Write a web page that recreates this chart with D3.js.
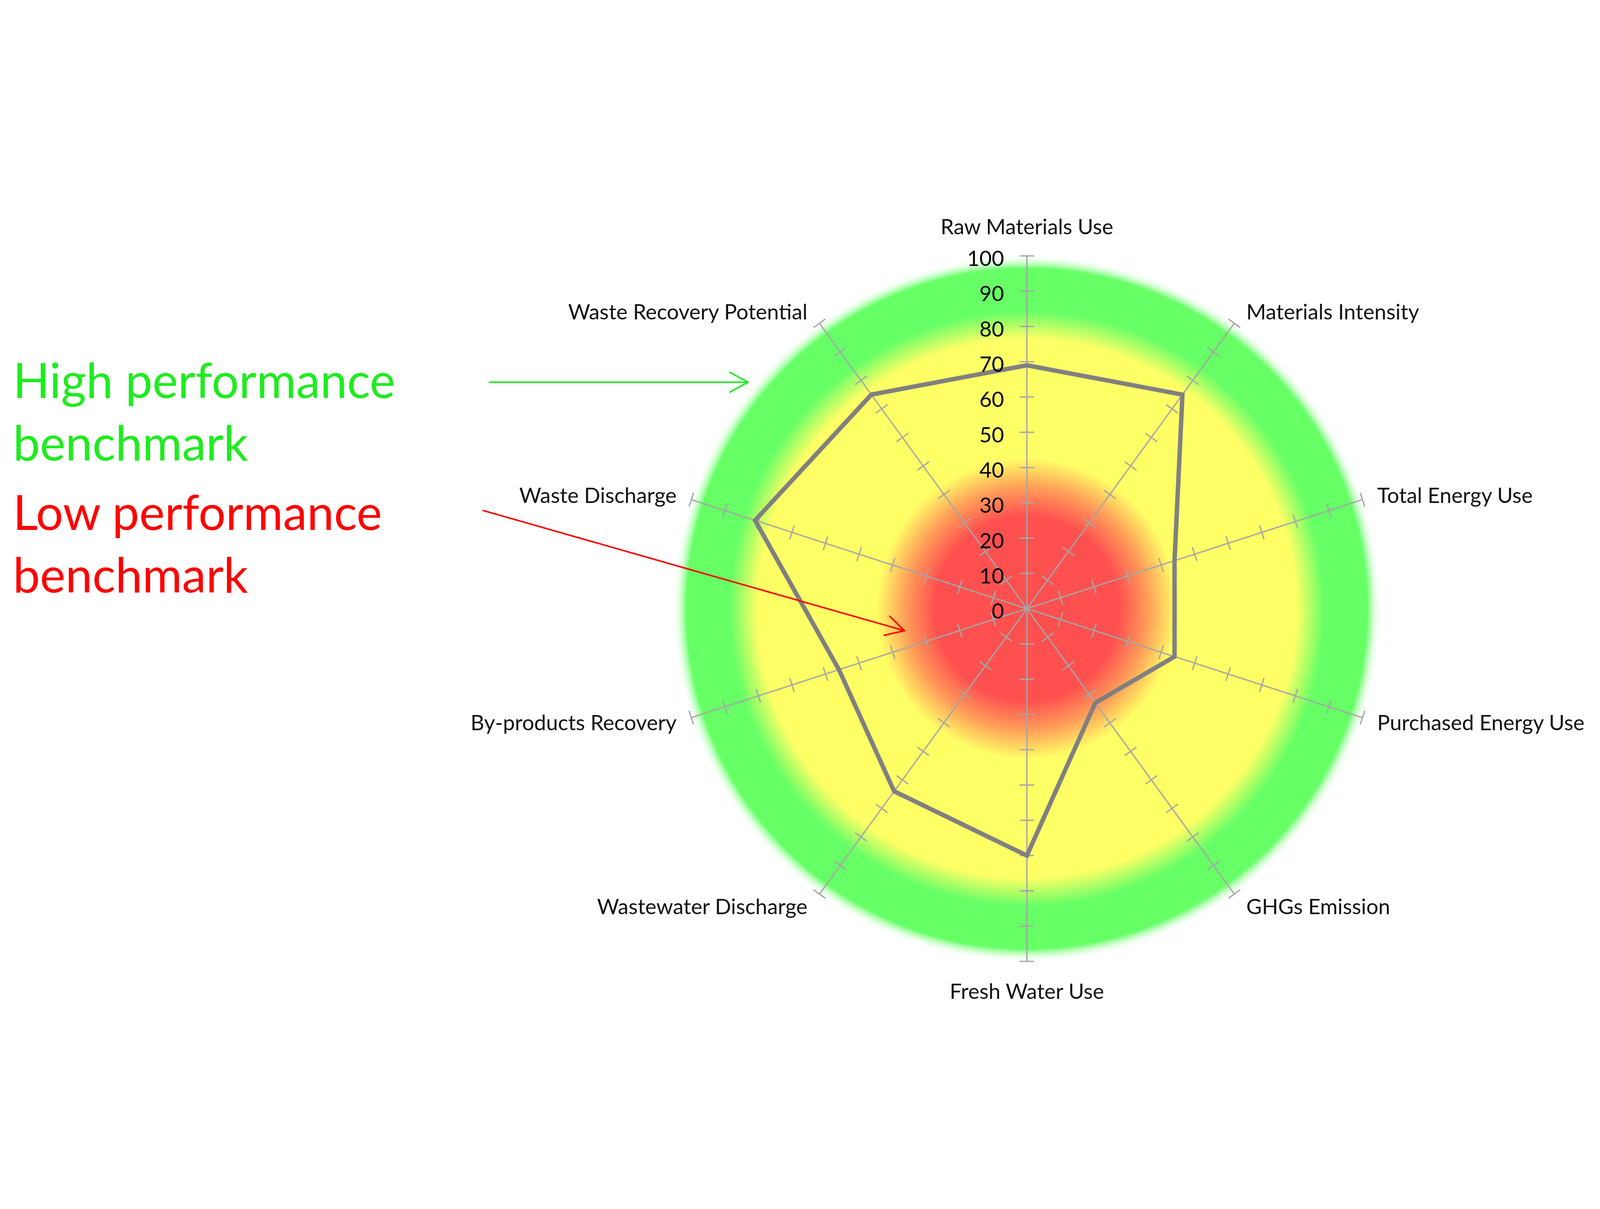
<!DOCTYPE html>
<html>
<head>
<meta charset="utf-8">
<script src="https://cdn.jsdelivr.net/npm/d3@7"></script>
<style>
  html, body { margin: 0; padding: 0; background: #fff; overflow: hidden; }
  svg { display: block; width: 100vw; height: 100vh; font-family: Lato, "Noto Sans", sans-serif; }
</style>
</head>
<body>
<svg id="chart" viewBox="0 0 6167 3096" preserveAspectRatio="xMidYMid meet"></svg>
<script>
// indicators, clockwise from the top
const axisNames = [
  'Raw Materials Use', 'Materials Intensity', 'Total Energy Use', 'Purchased Energy Use',
  'GHGs Emission', 'Fresh Water Use', 'Wastewater Discharge', 'By-products Recovery',
  'Waste Discharge', 'Waste Recovery Potential'
];
const scores = [69, 75, 44, 44, 33, 70, 64, 56, 81, 75];
const tickValues = d3.range(0, 101, 10);
const highText = ['High performance', 'benchmark'];
const lowText = ['Low performance', 'benchmark'];

const svg = d3.select('#chart');
const cx = 3958, cy = 1564, R = 1360;

let r = d3.scaleLinear().domain([0, 100]).range([0, R]);
let angle = d3.scaleLinear().domain([0, axisNames.length]).range([0, 2 * Math.PI]);

let pt = function(i, v) {
  let a = angle(i);
  return [Math.sin(a) * r(v), -Math.cos(a) * r(v)];
};

svg.append('rect').attr('width', 6167).attr('height', 3096).attr('fill', '#fff');

// background benchmark zones (blurred radial bands)
let defs = svg.append('defs');
let grad = defs.append('radialGradient').attr('id', 'zones')
  .attr('cx', 0.5).attr('cy', 0.5).attr('r', 0.5);
[
  [0, '#ff5050', 1], [0.26, '#ff5050', 1], [0.34, '#ff9b58', 1], [0.425, '#ffff66', 1],
  [0.76, '#ffff66', 1], [0.84, '#66ff66', 1], [0.96, '#66ff66', 1], [1, '#ffffff', 0]
].forEach(function(s) {
  grad.append('stop').attr('offset', s[0]).attr('stop-color', s[1]).attr('stop-opacity', s[2]);
});

let g = svg.append('g').attr('transform', 'translate(' + cx + ',' + cy + ')');

g.append('circle').attr('r', r(100) + 6).attr('fill', 'url(#zones)');

// spokes + cross ticks
axisNames.forEach(function(name, i) {
  let a = angle(i);
  let end = pt(i, 100);
  g.append('line')
    .attr('x1', 0).attr('y1', 0).attr('x2', end[0]).attr('y2', end[1])
    .attr('stroke', '#a6a6a6').attr('stroke-width', 5);

  tickValues.filter(v => v > 0).forEach(function(v) {
    let p = pt(i, v);
    let ux = Math.cos(a) * 28, uy = Math.sin(a) * 28;
    g.append('line')
      .attr('x1', p[0] - ux).attr('y1', p[1] - uy)
      .attr('x2', p[0] + ux).attr('y2', p[1] + uy)
      .attr('stroke', '#a6a6a6').attr('stroke-width', 5);
  });
});

let radar = d3.lineRadial()
  .angle((d, i) => angle(i))
  .radius(d => r(d))
  .curve(d3.curveLinearClosed);

g.append('path')
  .datum(scores)
  .attr('d', radar)
  .attr('fill', 'none')
  .attr('stroke', '#808080')
  .attr('stroke-width', 17)
  .attr('stroke-linejoin', 'miter');

// value labels on the first spoke
g.selectAll('.tick-label')
  .data(tickValues)
  .enter().append('text')
  .attr('class', 'tick-label')
  .attr('x', -88)
  .attr('y', d => -r(d))
  .attr('dy', '0.47em')
  .attr('text-anchor', 'end')
  .attr('font-size', 82)
  .attr('fill', '#000')
  .text(d => d);

// category labels around the outside
axisNames.forEach(function(name, i) {
  let a = angle(i);
  let s = Math.sin(a), c = Math.cos(a);
  let end = pt(i, 100);
  let x = end[0], y, anchor;
  if (Math.abs(s) < 0.01) {
    anchor = 'middle';
    y = c > 0 ? end[1] - 83 : end[1] + 145;
  } else {
    anchor = s > 0 ? 'start' : 'end';
    x = end[0] + Math.sign(s) * (30 + 28 * Math.abs(s));
    y = end[1] + 31 - 57 * c;
  }
  g.append('text')
    .attr('x', x).attr('y', y)
    .attr('text-anchor', anchor)
    .attr('font-size', 82)
    .attr('fill', '#111')
    .text(name);
});

// benchmark annotations
let drawNote = function(lines, color, y0) {
  lines.forEach(function(line, k) {
    svg.append('text')
      .attr('x', 50).attr('y', y0 + k * 241)
      .attr('font-size', 186)
      .attr('fill', color)
      .text(line);
  });
};
drawNote(highText, '#1eec1e', 752);
drawNote(lowText, '#ff0000', 1261);

let drawArrow = function(x1, y1, x2, y2, color) {
  let a = Math.atan2(y2 - y1, x2 - x1);
  let len = 82, spread = 0.5;
  svg.append('line')
    .attr('x1', x1).attr('y1', y1).attr('x2', x2).attr('y2', y2)
    .attr('stroke', color).attr('stroke-width', 6);
  svg.append('path')
    .attr('d', 'M' + (x2 - len * Math.cos(a - spread)) + ',' + (y2 - len * Math.sin(a - spread)) +
      'L' + x2 + ',' + y2 +
      'L' + (x2 - len * Math.cos(a + spread)) + ',' + (y2 - len * Math.sin(a + spread)))
    .attr('fill', 'none').attr('stroke', color).attr('stroke-width', 6);
};
drawArrow(1884, 691, 2883, 691, '#1eec1e');
drawArrow(1860, 1185, 3486, 1649, '#ff0000');
</script>
</body>
</html>
